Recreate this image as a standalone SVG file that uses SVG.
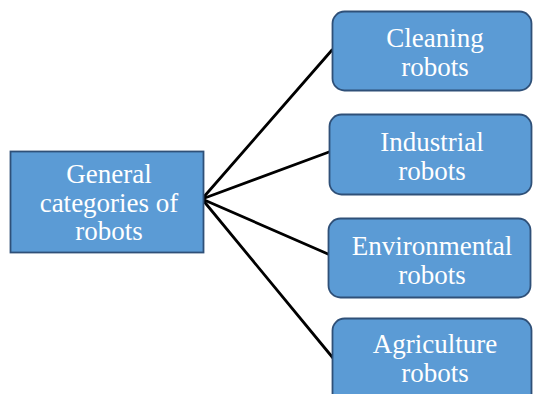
<svg xmlns="http://www.w3.org/2000/svg" width="533" height="394" viewBox="0 0 533 394">
<style>
.box{fill:#5B9BD5;stroke:#2F5078;stroke-width:1.8}
.t{font-family:"Liberation Serif","Times New Roman",serif;font-size:27px;fill:#fff;text-anchor:middle}
.c{stroke:#000;stroke-width:2.8;fill:none;stroke-linecap:round}
</style>
<rect width="533" height="394" fill="#fff"/>
<g id="connectors">
<line class="c" x1="202" y1="199" x2="332" y2="50"/>
<line class="c" x1="202" y1="199" x2="329" y2="152"/>
<line class="c" x1="202" y1="199" x2="328" y2="254"/>
<line class="c" x1="202" y1="199" x2="333" y2="358"/>
</g>
<g id="general">
<rect class="box" x="10.5" y="151.5" width="193" height="101"/>
<text class="t" x="109" y="183">General</text>
<text class="t" x="109" y="212">categories of</text>
<text class="t" x="109" y="240">robots</text>
</g>
<g id="cleaning">
<rect class="box" x="332.5" y="11.5" width="199" height="79" rx="12"/>
<text class="t" x="435" y="47">Cleaning</text>
<text class="t" x="435" y="76">robots</text>
</g>
<g id="industrial">
<rect class="box" x="329.5" y="114.5" width="202" height="80" rx="12"/>
<text class="t" x="432" y="151">Industrial</text>
<text class="t" x="432" y="180">robots</text>
</g>
<g id="environmental">
<rect class="box" x="328.5" y="218.5" width="202" height="79" rx="12"/>
<text class="t" x="432" y="255">Environmental</text>
<text class="t" x="432" y="284">robots</text>
</g>
<g id="agriculture">
<rect class="box" x="332.5" y="318.5" width="199" height="90" rx="12"/>
<text class="t" x="435" y="353">Agriculture</text>
<text class="t" x="435" y="382">robots</text>
</g>
</svg>
